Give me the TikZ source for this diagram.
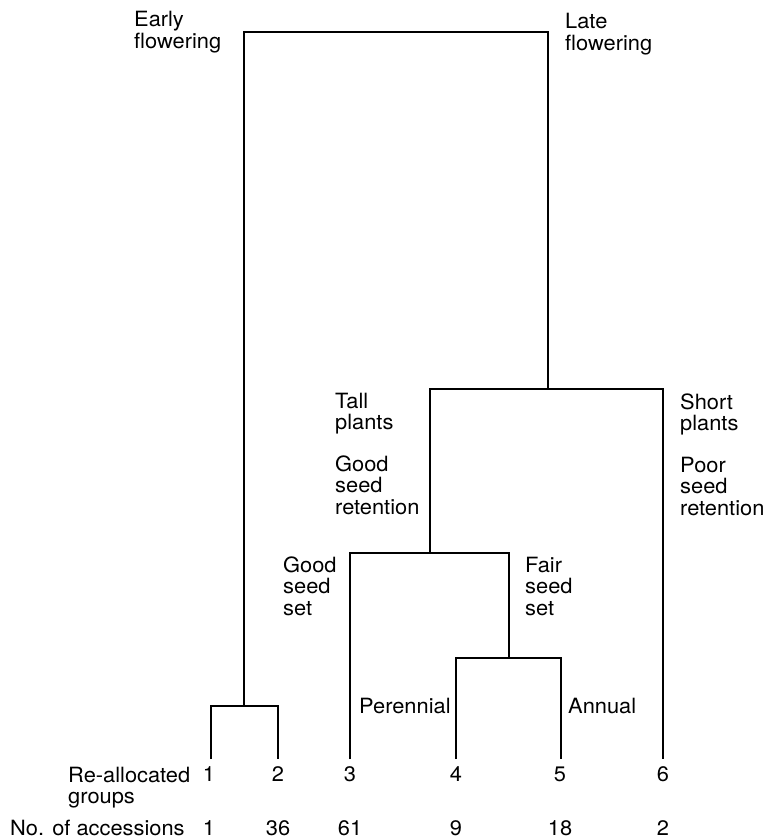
\documentclass[tikz,border=0pt]{standalone}
\usepackage{fontspec}
\setmainfont[FakeStretch=1.04]{TeX Gyre Heros}
\newcommand{\mlines}[1]{\begin{tabular}[t]{@{}l@{}}#1\end{tabular}}
\begin{document}
\begin{tikzpicture}[x=1pt,y=-1pt,
  lbl/.style={anchor=base west,inner sep=0pt,font=\fontsize{21}{21.5}\selectfont},
  num/.style={anchor=base,inner sep=0pt,font=\fontsize{21}{21.5}\selectfont},
  branch/.style={draw=black,line width=2.3pt,line join=miter}]
\useasboundingbox (0,0) rectangle (770,840);
% leaves and junctions
\coordinate (L1) at (211,759);
\coordinate (L2) at (278,759);
\coordinate (L3) at (350,759);
\coordinate (L4) at (456,759);
\coordinate (L5) at (561,759);
\coordinate (L6) at (663,759);
\coordinate (J12) at (244,706);
\coordinate (J45) at (509,658);
\coordinate (J345) at (430,553);
\coordinate (J3456) at (548,389);
\coordinate (TR) at (548,32);
% branches
\draw[branch] (L1) |- (J12) -| (L2);
\draw[branch] (J12) |- (TR) -- (J3456);
\draw[branch] (L4) |- (J45) -| (L5);
\draw[branch] (L3) |- (J345) -| (J45);
\draw[branch] (J345) |- (J3456) -| (L6);
% labels
\node[lbl] (early) at (134,27) {\mlines{Early\\flowering}};
\node[lbl] (late) at (565,29) {\mlines{Late\\flowering}};
\node[lbl] (tall) at (335,408) {\mlines{Tall\\plants}};
\node[lbl] (goodret) at (335,471) {\mlines{Good\\seed\\retention}};
\node[lbl] (short) at (680,409) {\mlines{Short\\plants}};
\node[lbl] (poor) at (680,472) {\mlines{Poor\\seed\\retention}};
\node[lbl] (goodset) at (283,572) {\mlines{Good\\seed\\set}};
\node[lbl] (fairset) at (525,572) {\mlines{Fair\\seed\\set}};
\node[lbl] (perennial) at (359,713) {Perennial};
\node[lbl] (annual) at (568,713) {Annual};
\node[lbl] (realloc) at (68,782) {\mlines{Re-allocated\\groups}};
\node[lbl] (acc) at (10,835) {No. of accessions};
% group numbers
\node[num] (g1) at (209,781) {1};
\node[num] (g2) at (278,781) {2};
\node[num] (g3) at (350,781) {3};
\node[num] (g4) at (456,781) {4};
\node[num] (g5) at (560,781) {5};
\node[num] (g6) at (663,781) {6};
% accession counts
\node[num] (n1) at (209,835) {1};
\node[num] (n2) at (278,835) {36};
\node[num] (n3) at (350,835) {61};
\node[num] (n4) at (456,835) {9};
\node[num] (n5) at (560,835) {18};
\node[num] (n6) at (663,835) {2};
\end{tikzpicture}
\end{document}
